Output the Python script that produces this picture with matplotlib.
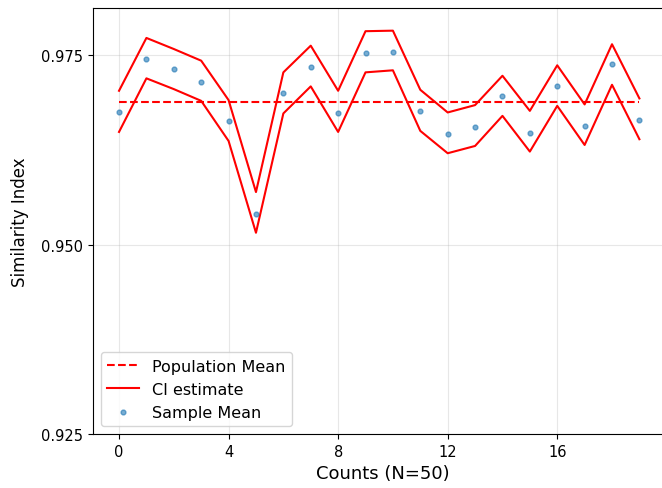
import matplotlib
matplotlib.use("Agg")
import matplotlib.pyplot as plt
import numpy as np

# values
counts = list(range(20))
sample_mean = [0.9675, 0.97451, 0.97319, 0.97147, 0.96627, 0.95406, 0.96993,
               0.97345, 0.96733, 0.9753, 0.97544, 0.96763, 0.96459, 0.96552,
               0.96962, 0.96477, 0.97086, 0.96565, 0.97377, 0.96644]
ci_upper = [0.97028, 0.97725, 0.97579, 0.97425, 0.96905, 0.95692, 0.97271,
            0.97623, 0.97028, 0.97814, 0.97821, 0.97041, 0.96742, 0.96839,
            0.97226, 0.96763, 0.97364, 0.96848, 0.97642, 0.96927]
ci_lower = [0.96485, 0.97192, 0.9705, 0.96895, 0.96366, 0.95155, 0.96729,
            0.97086, 0.96485, 0.97271, 0.97298, 0.96499, 0.96204, 0.963,
            0.96697, 0.96226, 0.96829, 0.96313, 0.97107, 0.96389]
population_mean = 0.96878

plt.rcParams["font.size"] = 11
fig = plt.figure(figsize=(6.62, 4.89), dpi=100)
# the reference is cropped on the right, so the axes run past the figure edge
ax = fig.add_axes([0.1405, 0.1104, 0.875, 0.8712])

ax.plot(counts, [population_mean] * len(counts), "r--", label="Population Mean")
ax.plot(counts, ci_upper, "r-", label="CI estimate")
ax.plot(counts, ci_lower, "r-")
ax.scatter(counts, sample_mean, s=12, color="tab:blue", alpha=0.6,
           label="Sample Mean", zorder=3)

ax.set_xlim(-0.95, 20.2)
ax.set_ylim(0.925, 0.9812)
ax.set_xticks([0, 4, 8, 12, 16])
ax.set_yticks([0.925, 0.950, 0.975])
ax.set_yticklabels(["0.925", "0.950", "0.975"])
ax.tick_params(labelsize=10.5)
ax.grid(alpha=0.3)
ax.set_xlabel("Counts (N=50)", fontsize=13, labelpad=4)
ax.set_ylabel("Similarity Index", fontsize=12, labelpad=9)
ax.legend(loc="lower left", fontsize=11.5)

fig.savefig("out.png", dpi=100)
